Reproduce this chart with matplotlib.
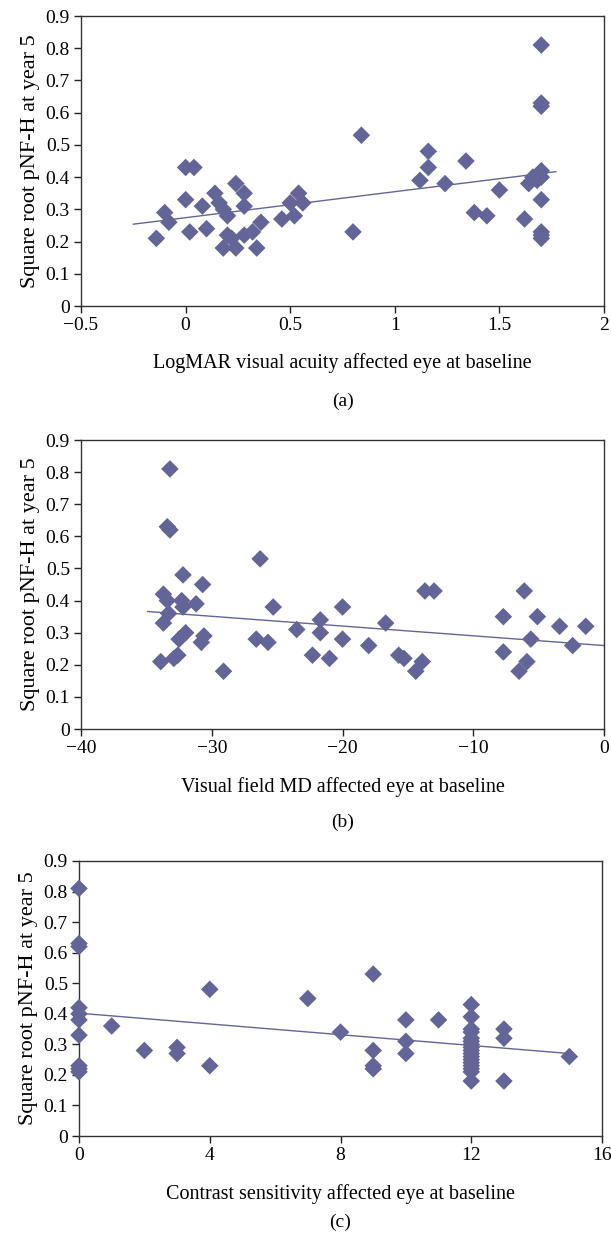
import numpy as np
import matplotlib
matplotlib.use("Agg")
import matplotlib.pyplot as plt
from matplotlib.ticker import FuncFormatter, MultipleLocator

plt.rcParams['font.family'] = ['Liberation Serif', 'DejaVu Serif']
plt.rcParams['font.size'] = 14

# panel (a): LogMAR visual acuity vs sqrt pNF-H
a_x = [-0.14, -0.10, -0.08, 0.00, 0.04, 0.00, 0.02, 0.08, 0.10, 0.14, 0.16, 0.18, 0.20,
       0.20, 0.22, 0.18, 0.24, 0.24, 0.28, 0.28, 0.28, 0.32, 0.34, 0.36, 0.46, 0.50,
       0.52, 0.54, 0.56, 0.80, 0.84, 1.12, 1.16, 1.16, 1.24, 1.34, 1.38, 1.44, 1.50,
       1.62, 1.64, 1.66, 1.68, 1.70, 1.70, 1.70, 1.70, 1.70, 1.70, 1.70, 1.70, 1.70]
a_y = [0.21, 0.29, 0.26, 0.43, 0.43, 0.33, 0.23, 0.31, 0.24, 0.35, 0.32, 0.30, 0.28,
       0.22, 0.21, 0.18, 0.38, 0.18, 0.35, 0.31, 0.22, 0.23, 0.18, 0.26, 0.27, 0.32,
       0.28, 0.35, 0.32, 0.23, 0.53, 0.39, 0.48, 0.43, 0.38, 0.45, 0.29, 0.28, 0.36,
       0.27, 0.38, 0.40, 0.39, 0.81, 0.63, 0.62, 0.42, 0.40, 0.33, 0.23, 0.22, 0.21]
a_trend_x = [-0.25, 1.77]
a_trend_y = [0.254, 0.417]

# panel (b): visual field MD
b_x = [-33.2, -33.4, -33.2, -26.3, -32.2, -30.7, -33.7, -33.4, -32.3, -32.2, -31.2,
       -25.3, -33.3, -33.7, -23.5, -21.7, -21.7, -20.0, -20.0, -32.0, -32.5, -30.6,
       -30.8, -26.6, -25.7, -32.6, -32.9, -33.9, -22.3, -21.0, -29.1,
       -18.0, -16.7, -15.7, -15.3, -14.4, -13.9, -13.7, -13.0, -7.7, -7.7, -6.1,
       -5.1, -5.6, -5.9, -6.5, -3.4, -2.4, -1.4]
b_y = [0.81, 0.63, 0.62, 0.53, 0.48, 0.45, 0.42, 0.40, 0.40, 0.38, 0.39,
       0.38, 0.36, 0.33, 0.31, 0.34, 0.30, 0.38, 0.28, 0.30, 0.28, 0.29,
       0.27, 0.28, 0.27, 0.23, 0.22, 0.21, 0.23, 0.22, 0.18,
       0.26, 0.33, 0.23, 0.22, 0.18, 0.21, 0.43, 0.43, 0.35, 0.24, 0.43,
       0.35, 0.28, 0.21, 0.18, 0.32, 0.26, 0.32]
b_trend_x = [-34.9, 0.0]
b_trend_y = [0.366, 0.260]

# panel (c): contrast sensitivity
c_x = [0] * 10 + [1, 2, 3, 3, 4, 4, 7, 8, 9, 9, 9, 9, 10, 10, 10, 11] + [12] * 17 + [13, 13, 13, 15]
c_y = [0.81, 0.63, 0.62, 0.42, 0.40, 0.38, 0.33, 0.23, 0.22, 0.21,
       0.36, 0.28, 0.29, 0.27, 0.48, 0.23, 0.45, 0.34, 0.53, 0.28, 0.23, 0.22,
       0.38, 0.31, 0.27, 0.38,
       0.43, 0.39, 0.35, 0.34, 0.32, 0.31, 0.30, 0.29, 0.28, 0.27, 0.26, 0.25,
       0.24, 0.23, 0.22, 0.21, 0.18,
       0.35, 0.32, 0.18, 0.26]
c_trend_x = [0.0, 15.0]
c_trend_y = [0.402, 0.270]

panels = [
    (a_x, a_y, a_trend_x, a_trend_y, (-0.5, 2), 0.5, "LogMAR visual acuity affected eye at baseline", "(a)"),
    (b_x, b_y, b_trend_x, b_trend_y, (-40, 0), 10, "Visual field MD affected eye at baseline", "(b)"),
    (c_x, c_y, c_trend_x, c_trend_y, (0, 16), 4, "Contrast sensitivity affected eye at baseline", "(c)"),
]
# axes boxes in figure fractions [left, bottom, width, height]
boxes = [
    [0.1326, 0.7536, 0.8560, 0.2335],
    [0.1326, 0.4130, 0.8560, 0.2327],
    [0.1293, 0.0853, 0.8560, 0.2215],
]
panel_label_y = [0.677, 0.338, 0.016]

color = "#636497"


def fmt(v, pos):
    s = f"{v:g}"
    return s.replace("-", "\u2212")


fig = plt.figure(figsize=(6.11, 12.42), dpi=100)
for (xs, ys, tx, ty, xlim, xstep, xlabel, tag), box, ly in zip(panels, boxes, panel_label_y):
    ax = fig.add_axes(box)
    ax.scatter(xs, ys, marker="D", s=80, color=color, edgecolors="none", zorder=3, clip_on=False)
    ax.plot(tx, ty, color=color, lw=1.0, zorder=2)
    ax.set_xlim(*xlim)
    ax.set_ylim(0, 0.9)
    ax.xaxis.set_major_locator(MultipleLocator(xstep))
    ax.yaxis.set_major_locator(MultipleLocator(0.1))
    ax.xaxis.set_major_formatter(FuncFormatter(fmt))
    ax.yaxis.set_major_formatter(FuncFormatter(fmt))
    ax.tick_params(direction="out", length=5, width=1, color="#222222", pad=3, labelsize=14)
    for sp in ax.spines.values():
        sp.set_color("#333333")
        sp.set_linewidth(1.0)
    ax.set_xlabel(xlabel, fontsize=14.5, labelpad=14)
    ax.set_ylabel("Square root pNF-H at year 5", fontsize=16, labelpad=4)
    fig.text(box[0] + box[2] / 2, ly, tag, ha="center", va="center", fontsize=14)

fig.savefig("out.png", dpi=100)
